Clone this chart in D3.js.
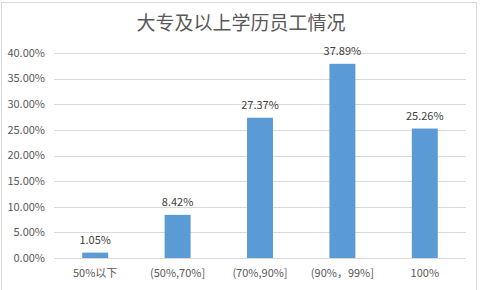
<!DOCTYPE html>
<html>
<head>
<meta charset="utf-8">
<script src="https://cdn.jsdelivr.net/npm/d3@7"></script>
<style>
  body { margin: 0; background: #fff; }
  text { font-family: "Microsoft YaHei", "Noto Sans CJK SC", sans-serif; }
</style>
</head>
<body>
<svg id="chart" width="485" height="290"></svg>
<script>
const categories = ['50%以下', '(50%,70%]', '(70%,90%]', '(90%，99%]', '100%']
const values = [1.05, 8.42, 27.37, 37.89, 25.26]
const yTicks = [0, 5, 10, 15, 20, 25, 30, 35, 40]
const title = '大专及以上学历员工情况'

const svg = d3.select('#chart')
const margin = {top: 53, right: 19, bottom: 32, left: 54}
const innerW = 485 - margin.left - margin.right
const innerH = 290 - margin.top - margin.bottom

// chart border
svg.append('rect')
  .attr('x', 1.5).attr('y', 2.5)
  .attr('width', 475).attr('height', 290)
  .attr('fill', 'none').attr('stroke', '#d9d9d9')

svg.append('text')
  .attr('x', 241).attr('y', 30)
  .attr('text-anchor', 'middle')
  .attr('font-size', 19)
  .attr('fill', '#595959')
  .text(title)

const g = svg.append('g').attr('transform', `translate(${margin.left},${margin.top})`)

const x = d3.scaleBand().domain(categories).range([0, innerW])
  .paddingInner(0.685).paddingOuter(0.3425)
const y = d3.scaleLinear().domain([0, 40]).range([innerH, 0])

// gridlines
g.selectAll('line.grid').data(yTicks).join('line')
  .attr('class', 'grid')
  .attr('x1', 0).attr('x2', innerW)
  .attr('y1', d => Math.round(y(d)) + 0.5).attr('y2', d => Math.round(y(d)) + 0.5)
  .attr('stroke', '#d9d9d9')

// y labels
g.selectAll('text.ytick').data(yTicks).join('text')
  .attr('class', 'ytick')
  .attr('x', -9).attr('y', d => y(d))
  .attr('dy', '0.35em')
  .attr('text-anchor', 'end')
  .attr('font-size', 11)
  .attr('fill', '#595959')
  .text(d => d.toFixed(2) + '%')

// bars
g.selectAll('rect.bar').data(values).join('rect')
  .attr('class', 'bar')
  .attr('x', (d, i) => x(categories[i]))
  .attr('y', d => y(d))
  .attr('width', x.bandwidth())
  .attr('height', d => innerH - y(d))
  .attr('fill', '#5b9bd5')

// data labels
g.selectAll('text.val').data(values).join('text')
  .attr('class', 'val')
  .attr('x', (d, i) => x(categories[i]) + x.bandwidth() / 2)
  .attr('y', d => y(d) - 9)
  .attr('text-anchor', 'middle')
  .attr('font-size', 11)
  .attr('fill', '#404040')
  .text(d => d.toFixed(2) + '%')

// category labels
g.selectAll('text.xtick').data(categories).join('text')
  .attr('class', 'xtick')
  .attr('x', d => x(d) + x.bandwidth() / 2)
  .attr('y', innerH + 15)
  .attr('dy', '0.35em')
  .attr('text-anchor', 'middle')
  .attr('font-size', 11)
  .attr('fill', '#595959')
  .text(d => d)
</script>
</body>
</html>
